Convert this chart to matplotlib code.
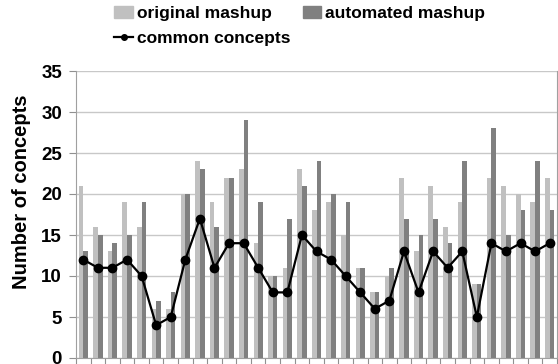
import matplotlib
matplotlib.use("Agg")
import matplotlib.pyplot as plt
import numpy as np
from matplotlib.patches import Patch
from matplotlib.lines import Line2D

plt.rcParams['font.family'] = ['Liberation Sans', 'DejaVu Sans']
plt.rcParams['font.weight'] = 'bold'

# Concept counts per mashup
original = [21, 16, 13, 19, 16, 6, 6, 20, 24, 19, 22, 23, 14, 10, 11, 23, 18,
            19, 15, 11, 8, 10, 22, 13, 21, 16, 19, 9, 22, 21, 20, 19, 22]
automated = [13, 15, 14, 15, 19, 7, 8, 20, 23, 16, 22, 29, 19, 10, 17, 21, 24,
             20, 19, 11, 8, 11, 17, 15, 17, 14, 24, 9, 28, 15, 18, 24, 18]
common = [12, 11, 11, 12, 10, 4, 5, 12, 17, 11, 14, 14, 11, 8, 8, 15, 13,
          12, 10, 8, 6, 7, 13, 8, 13, 11, 13, 5, 14, 13, 14, 13, 14]

y_ticks = [0, 5, 10, 15, 20, 25, 30, 35]

light = '#c0c0c0'
dark = '#808080'

fig = plt.figure(figsize=(5.58, 3.64), dpi=100)
ax = fig.add_axes([76 / 558, 6 / 364, 481 / 558, 287 / 364])

x = np.arange(len(original))
w = 0.32
ax.bar(x - w / 2, original, width=w, color=light, zorder=2)
ax.bar(x + w / 2, automated, width=w, color=dark, zorder=2)
ax.plot(x, common, color='black', lw=1.6, marker='o', ms=6, zorder=3)

ax.set_xlim(-0.5, len(original) - 0.5)
ax.set_ylim(0, 35)
ax.set_yticks(y_ticks)
ax.set_yticklabels([str(t) for t in y_ticks], fontsize=13.5, fontweight='bold')
ax.set_xticks(np.arange(len(original) + 1) - 0.5)
ax.set_xticklabels([])
ax.tick_params(axis='x', length=5, color='#909090', width=0.8, direction='out')
ax.tick_params(axis='y', length=5, color='#909090', width=0.8, pad=5)
ax.yaxis.grid(True, color='#c8c8c8', lw=1, zorder=0)
ax.set_axisbelow(True)
for side in ['left', 'right', 'top', 'bottom']:
    ax.spines[side].set_color('#a0a0a0')
    ax.spines[side].set_linewidth(0.8)
ax.spines['top'].set_visible(False)

ax.set_ylabel('Number of concepts', fontsize=14.5, fontweight='bold')
ax.yaxis.set_label_coords(-(76 - 22) / 481, 0.578)
ax.yaxis.label.set_va('center')

handles = [Patch(color=light, label='original mashup'),
           Line2D([], [], color='black', lw=1.6, marker='o', ms=4,
                  label='common concepts'),
           Patch(color=dark, label='automated mashup')]
fig.legend(handles=handles, ncol=2, loc='upper left',
           bbox_to_anchor=(104 / 558, 1.012), frameon=False,
           fontsize=12.5, handlelength=1.05, handleheight=0.65,
           handletextpad=0.25, columnspacing=0.7, labelspacing=0.55,
           borderaxespad=0.2)

fig.savefig('out.png', dpi=100)
